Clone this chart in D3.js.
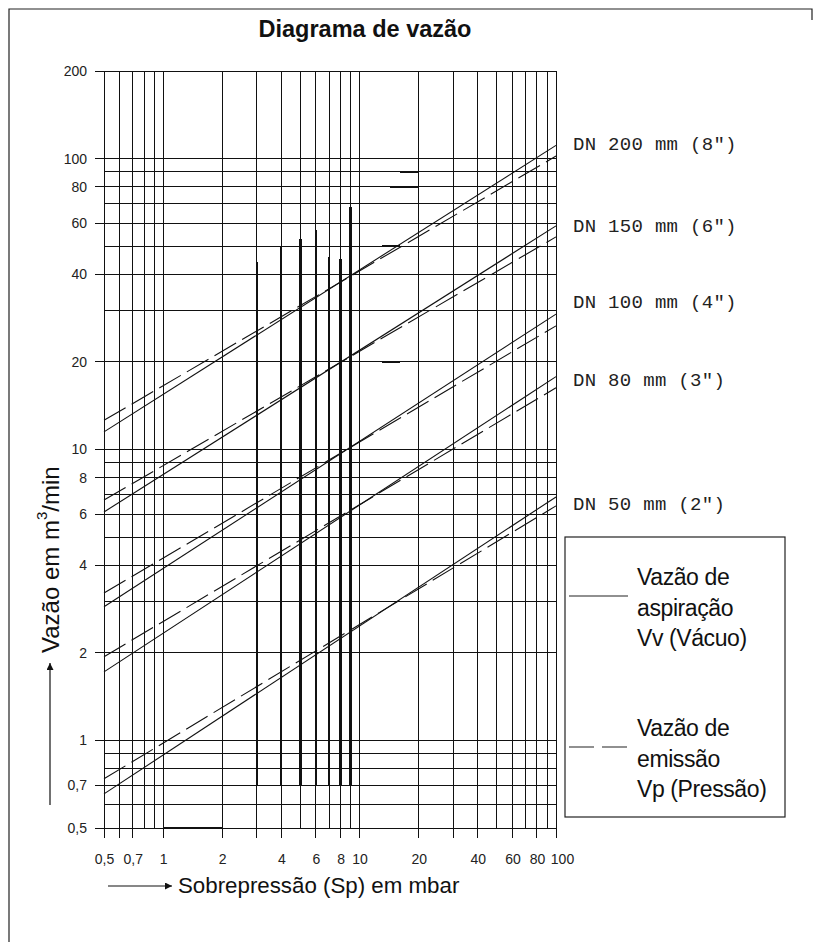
<!DOCTYPE html>
<html>
<head>
<meta charset="utf-8">
<script src="https://cdn.jsdelivr.net/npm/d3@7"></script>
<style>
  body { margin: 0; background: #fff; }
  svg { display: block; }
</style>
</head>
<body>
<div id="container"></div>
<script>
// grid values (log scales)
const xGrid = [0.5, 0.6, 0.7, 0.8, 0.9, 1, 2, 3, 4, 5, 6, 7, 8, 9, 10, 20, 30, 40, 50, 60, 70, 80, 90, 100];
const yGrid = [0.5, 0.6, 0.7, 0.8, 0.9, 1, 2, 3, 4, 5, 6, 7, 8, 9, 10, 20, 30, 40, 50, 60, 70, 80, 90, 100, 200];
const xLabels = [0.5, 0.7, 1, 2, 4, 6, 8, 10, 20, 40, 60, 80, 100];
const yLabels = [0.5, 0.7, 1, 2, 4, 6, 8, 10, 20, 40, 60, 80, 100, 200];
const xLong = [0.5, 0.6, 0.7, 1, 2, 3, 4, 6, 8, 10, 20, 30, 40, 60, 80, 100];

// pressure range of every line (mbar)
const sp = [0.5, 100];

// flow m3/min at sp[0] and sp[1]
const dn200Vv = [11.5, 111];
const dn200Vp = [12.6, 102];
const dn150Vv = [6.1, 58.7];
const dn150Vp = [6.7, 53.8];
const dn100Vv = [2.88, 29.2];
const dn100Vp = [3.21, 26.6];
const dn80Vv = [1.72, 17.8];
const dn80Vp = [1.94, 16.3];
const dn50Vv = [0.655, 6.87];
const dn50Vp = [0.738, 6.4];

const dnNames = ["DN 200 mm (8\")", "DN 150 mm (6\")", "DN 100 mm (4\")", "DN 80 mm (3\")", "DN 50 mm (2\")"];
const dnLabelAt = [107, 56, 30.7, 16.5, 6.2];

// darker (over-printed) pieces of the scanned grid: [sp, from, to]
const heavyV = [[3, 0.7, 44], [4, 0.7, 50], [5, 0.7, 53], [6, 0.7, 57], [7, 0.7, 46], [8, 0.7, 45], [9, 0.7, 68]];
// [flow, from sp, to sp]
const heavyH = [[0.5, 1, 2], [90, 16, 20], [80, 14.3, 20], [50, 13, 16], [20, 13, 16]];

let W = 817, H = 942;
let svg = d3.select("#container")
  .append("svg")
  .attr("width", W)
  .attr("height", H);

// outer frame
svg.append("path")
  .attr("d", "M9," + H + " L9,9 L812,9 L812,20")
  .attr("fill", "none")
  .attr("stroke", "#222")
  .attr("stroke-width", 1.2);

svg.append("text")
  .text("Diagrama de vazão")
  .attr("x", 365)
  .attr("y", 37)
  .attr("text-anchor", "middle")
  .attr("font-family", "Liberation Sans, Arial, sans-serif")
  .attr("font-weight", "bold")
  .attr("font-size", 23.5)
  .attr("fill", "#111");

let x = d3.scaleLog().domain([0.5, 100]).range([104, 556]);
let y = d3.scaleLog().domain([0.5, 200]).range([828, 71]);

let comma = d => String(d).replace(".", ",");

let grid = svg.append("g").attr("class", "grid")
  .attr("stroke", "#111")
  .attr("stroke-width", 1)
  .attr("shape-rendering", "crispEdges");

grid.selectAll(".vl").data(xGrid).enter()
  .append("line")
  .attr("class", "vl")
  .attr("x1", d => x(d)).attr("x2", d => x(d))
  .attr("y1", y(200))
  .attr("y2", d => xLong.includes(d) ? y(0.5) + 10 : y(0.5));

grid.selectAll(".hl").data(yGrid).enter()
  .append("line")
  .attr("class", "hl")
  .attr("y1", d => y(d)).attr("y2", d => y(d))
  .attr("x1", d => yLabels.includes(d) ? x(0.5) - 9 : x(0.5))
  .attr("x2", x(100));

grid.selectAll(".hv").data(heavyV).enter()
  .append("line")
  .attr("class", "hv")
  .attr("x1", d => x(d[0])).attr("x2", d => x(d[0]))
  .attr("y1", d => y(d[1])).attr("y2", d => y(d[2]))
  .attr("stroke-width", 2.2);

grid.selectAll(".hh").data(heavyH).enter()
  .append("line")
  .attr("class", "hh")
  .attr("y1", d => y(d[0])).attr("y2", d => y(d[0]))
  .attr("x1", d => x(d[1])).attr("x2", d => x(d[2]))
  .attr("stroke-width", 1.8);

// tick labels
let yAxis = svg.append("g")
  .attr("transform", "translate(" + x(0.5) + ",0)")
  .call(d3.axisLeft(y).tickValues(yLabels).tickSize(0).tickPadding(17).tickFormat(comma));
let xAxis = svg.append("g")
  .attr("transform", "translate(0," + y(0.5) + ")")
  .call(d3.axisBottom(x).tickValues(xLabels).tickSize(0).tickPadding(26).tickFormat(comma));
[yAxis, xAxis].forEach(a => {
  a.select(".domain").remove();
  a.selectAll("text")
    .attr("font-family", "Liberation Sans, Arial, sans-serif")
    .attr("font-size", 14)
    .attr("fill", "#222");
});
xAxis.selectAll(".tick text").filter(d => d == 100).attr("dx", 6);

// flow lines
let series = [
  [dn200Vv, dn200Vp], [dn150Vv, dn150Vp], [dn100Vv, dn100Vp], [dn80Vv, dn80Vp], [dn50Vv, dn50Vp]
];
let line = d3.line().x(d => x(d[0])).y(d => y(d[1]));
let curves = svg.append("g").attr("class", "curves");
series.forEach(s => {
  curves.append("path")
    .attr("d", line(d3.zip(sp, s[0])))
    .attr("fill", "none")
    .attr("stroke", "#111")
    .attr("stroke-width", 1.1);
  curves.append("path")
    .attr("d", line(d3.zip(sp, s[1])))
    .attr("fill", "none")
    .attr("stroke", "#111")
    .attr("stroke-width", 1.1)
    .attr("stroke-dasharray", "25,7");
});

svg.selectAll(".dn").data(dnNames).enter()
  .append("text")
  .attr("class", "dn")
  .text(d => d)
  .attr("x", 573)
  .attr("y", (d, i) => y(dnLabelAt[i]))
  .attr("font-family", "Liberation Mono, DejaVu Sans Mono, monospace")
  .attr("font-size", 19)
  .attr("letter-spacing", 0.3)
  .attr("fill", "#222");

// legend
let legend = svg.append("g").attr("class", "legend");
legend.append("rect")
  .attr("x", 565).attr("y", 537)
  .attr("width", 220).attr("height", 280)
  .attr("fill", "white")
  .attr("stroke", "#222")
  .attr("stroke-width", 1.2);
legend.append("line")
  .attr("x1", 569).attr("x2", 628).attr("y1", 596).attr("y2", 596)
  .attr("stroke", "#222").attr("stroke-width", 1.1);
legend.append("line")
  .attr("x1", 569).attr("x2", 628).attr("y1", 747).attr("y2", 747)
  .attr("stroke", "#222").attr("stroke-width", 1.1)
  .attr("stroke-dasharray", "25,8");
let legText = [["Vazão de", "aspiração", "Vv (Vácuo)"], ["Vazão de", "emissão", "Vp (Pressão)"]];
legText.forEach((lines, k) => {
  lines.forEach((t, j) => {
    legend.append("text")
      .text(t)
      .attr("x", 637)
      .attr("y", (k == 0 ? 585 : 736) + j * 30.5)
      .attr("font-family", "Liberation Sans, Arial, sans-serif")
      .attr("font-size", 23)
      .attr("letter-spacing", -0.4)
      .attr("fill", "#111");
  });
});

// axis titles with arrows
svg.append("defs").append("marker")
  .attr("id", "arr")
  .attr("viewBox", "0 0 10 10")
  .attr("refX", 10).attr("refY", 5)
  .attr("markerWidth", 22).attr("markerHeight", 7)
  .attr("markerUnits", "userSpaceOnUse")
  .attr("orient", "auto")
  .append("path")
  .attr("d", "M0,0 L10,5 L0,10 z")
  .attr("fill", "#111");

svg.append("line")
  .attr("x1", 50).attr("x2", 50).attr("y1", 805).attr("y2", 663)
  .attr("stroke", "#111").attr("stroke-width", 1.2)
  .attr("marker-end", "url(#arr)");
svg.append("line")
  .attr("x1", 108).attr("x2", 172).attr("y1", 886).attr("y2", 886)
  .attr("stroke", "#111").attr("stroke-width", 1.2)
  .attr("marker-end", "url(#arr)");

let yt = svg.append("text")
  .attr("transform", "translate(59,653) rotate(-90)")
  .attr("font-family", "Liberation Sans, Arial, sans-serif")
  .attr("font-size", 24)
  .attr("fill", "#111");
yt.append("tspan").text("Vazão em m");
yt.append("tspan").text("3").attr("font-size", 15).attr("dy", -12);
yt.append("tspan").text("/min").attr("dy", 12);

svg.append("text")
  .text("Sobrepressão (Sp) em mbar")
  .attr("x", 178)
  .attr("y", 893)
  .attr("font-family", "Liberation Sans, Arial, sans-serif")
  .attr("font-size", 22.3)
  .attr("fill", "#111");
</script>
</body>
</html>
